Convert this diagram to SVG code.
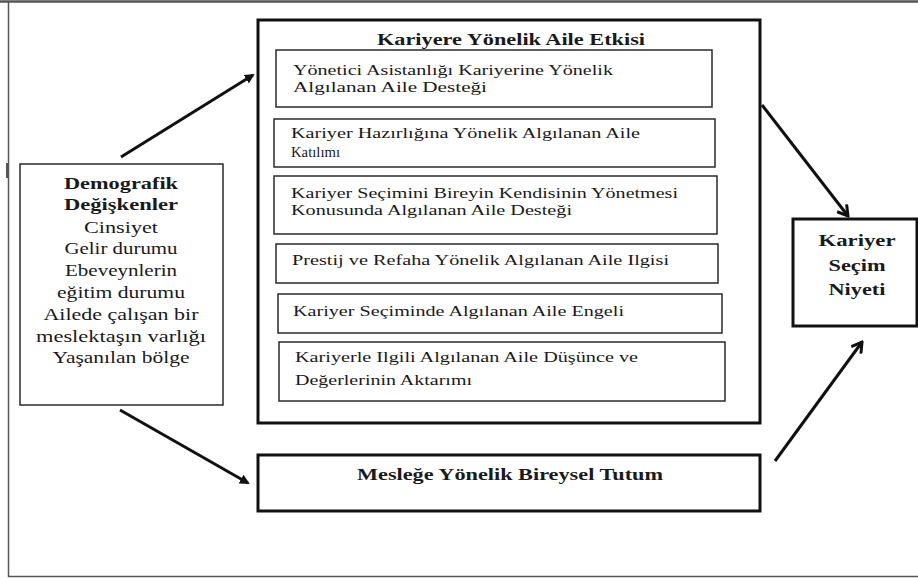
<svg xmlns="http://www.w3.org/2000/svg" width="918" height="579" viewBox="0 0 918 579">
<style>
.t{font-family:"Liberation Serif","Times New Roman","DejaVu Serif",serif;fill:#1a1a1a}
.b{font-weight:bold}
.in{fill:#fff;stroke:#2a2a2a;stroke-width:1.5}
.thick{fill:#fff;stroke:#111;stroke-width:3}
.con{stroke:#111;stroke-width:3;fill:none}
.frame{stroke:#555;fill:none}
</style>
<defs>
<marker id="fill" markerWidth="10" markerHeight="10" refX="8" refY="5" orient="auto" markerUnits="userSpaceOnUse" viewBox="0 0 10 10">
<path d="M0,0 L10,5 L0,10 Z" fill="#111"/>
</marker>
<marker id="open" markerWidth="14" markerHeight="14" refX="12" refY="7" orient="auto" markerUnits="userSpaceOnUse" viewBox="0 0 14 14">
<path d="M2,1 L12,7 L2,13" fill="none" stroke="#111" stroke-width="3"/>
</marker>
</defs>
<rect width="918" height="579" fill="#fff"/>
<g id="frame">
<line class="frame" x1="0" y1="1.5" x2="918" y2="1.5" stroke-width="2.5"/>
<line class="frame" x1="8.5" y1="1" x2="8.5" y2="577" stroke-width="1.5"/>
<line class="frame" x1="8" y1="576.5" x2="918" y2="576.5" stroke-width="1.5"/>
<line class="frame" x1="7" y1="163" x2="7" y2="178" stroke-width="2"/>
</g>
<g id="connectors">
<line class="con" x1="121" y1="157" x2="253" y2="75" marker-end="url(#fill)"/>
<line class="con" x1="120" y1="410" x2="248" y2="483" marker-end="url(#fill)"/>
<line class="con" x1="762" y1="105" x2="848" y2="216" marker-end="url(#open)"/>
<line class="con" x1="775" y1="461" x2="862" y2="342" marker-end="url(#open)"/>
</g>
<g id="aile-etkisi">
<rect class="thick" x="258" y="20" width="502" height="403"/>
<text class="t b" x="377" y="45" font-size="17" textLength="268" lengthAdjust="spacingAndGlyphs">Kariyere Yönelik Aile Etkisi</text>
</g>
<g id="yonetici">
<rect class="in" x="276" y="50" width="436" height="57"/>
<text class="t" x="293" y="75" font-size="15" textLength="320" lengthAdjust="spacingAndGlyphs">Yönetici Asistanlığı Kariyerine  Yönelik</text>
<text class="t" x="293" y="92" font-size="15" textLength="194" lengthAdjust="spacingAndGlyphs">Algılanan Aile Desteği</text>
</g>
<g id="hazirlik">
<rect class="in" x="274" y="119" width="441" height="48"/>
<text class="t" x="291" y="138" font-size="15" textLength="349" lengthAdjust="spacingAndGlyphs">Kariyer  Hazırlığına  Yönelik Algılanan  Aile</text>
<text class="t" x="291" y="157" font-size="15" textLength="49" lengthAdjust="spacingAndGlyphs">Katılımı</text>
</g>
<g id="secim-yonetme">
<rect class="in" x="274" y="176" width="443" height="58"/>
<text class="t" x="291" y="198" font-size="15" textLength="387" lengthAdjust="spacingAndGlyphs">Kariyer  Seçimini Bireyin Kendisinin  Yönetmesi</text>
<text class="t" x="291" y="215" font-size="15" textLength="281" lengthAdjust="spacingAndGlyphs">Konusunda Algılanan Aile Desteği</text>
</g>
<g id="prestij">
<rect class="in" x="276" y="244" width="442" height="39"/>
<text class="t" x="292" y="265" font-size="15" textLength="377" lengthAdjust="spacingAndGlyphs">Prestij ve Refaha Yönelik Algılanan Aile Ilgisi</text>
</g>
<g id="engel">
<rect class="in" x="278" y="294" width="444" height="39"/>
<text class="t" x="293" y="316" font-size="15" textLength="331" lengthAdjust="spacingAndGlyphs">Kariyer  Seçiminde Algılanan  Aile Engeli</text>
</g>
<g id="aktarim">
<rect class="in" x="279" y="342" width="446" height="59"/>
<text class="t" x="295" y="362" font-size="15" textLength="343" lengthAdjust="spacingAndGlyphs">Kariyerle Ilgili Algılanan Aile Düşünce ve</text>
<text class="t" x="295" y="385" font-size="15" textLength="177" lengthAdjust="spacingAndGlyphs">Değerlerinin  Aktarımı</text>
</g>
<g id="demografik">
<rect class="in" x="20" y="164" width="203" height="241"/>
<g text-anchor="middle">
<text class="t b" x="121" y="189" font-size="17" textLength="114" lengthAdjust="spacingAndGlyphs">Demografik</text>
<text class="t b" x="121" y="210" font-size="17" textLength="114" lengthAdjust="spacingAndGlyphs">Değişkenler</text>
<text class="t" x="121" y="233" font-size="17" textLength="74" lengthAdjust="spacingAndGlyphs">Cinsiyet</text>
<text class="t" x="121" y="254" font-size="17" textLength="113" lengthAdjust="spacingAndGlyphs">Gelir durumu</text>
<text class="t" x="121" y="276" font-size="17" textLength="112" lengthAdjust="spacingAndGlyphs">Ebeveynlerin</text>
<text class="t" x="121" y="298" font-size="17" textLength="128" lengthAdjust="spacingAndGlyphs">eğitim durumu</text>
<text class="t" x="121" y="320" font-size="17" textLength="155" lengthAdjust="spacingAndGlyphs">Ailede çalışan bir</text>
<text class="t" x="121" y="342" font-size="17" textLength="170" lengthAdjust="spacingAndGlyphs">meslektaşın varlığı</text>
<text class="t" x="121" y="363" font-size="17" textLength="137" lengthAdjust="spacingAndGlyphs">Yaşanılan bölge</text>
</g>
</g>
<g id="kariyer-secim-niyeti">
<rect class="thick" x="793" y="219" width="124" height="107"/>
<g text-anchor="middle">
<text class="t b" x="857" y="246" font-size="16" textLength="77" lengthAdjust="spacingAndGlyphs">Kariyer</text>
<text class="t b" x="857" y="271" font-size="16" textLength="57" lengthAdjust="spacingAndGlyphs">Seçim</text>
<text class="t b" x="857" y="295" font-size="16" textLength="57" lengthAdjust="spacingAndGlyphs">Niyeti</text>
</g>
</g>
<g id="bireysel-tutum">
<rect class="thick" x="258" y="455" width="502" height="56"/>
<text class="t b" x="510" y="480" font-size="17" text-anchor="middle" textLength="306" lengthAdjust="spacingAndGlyphs">Mesleğe Yönelik Bireysel Tutum</text>
</g>
</svg>
